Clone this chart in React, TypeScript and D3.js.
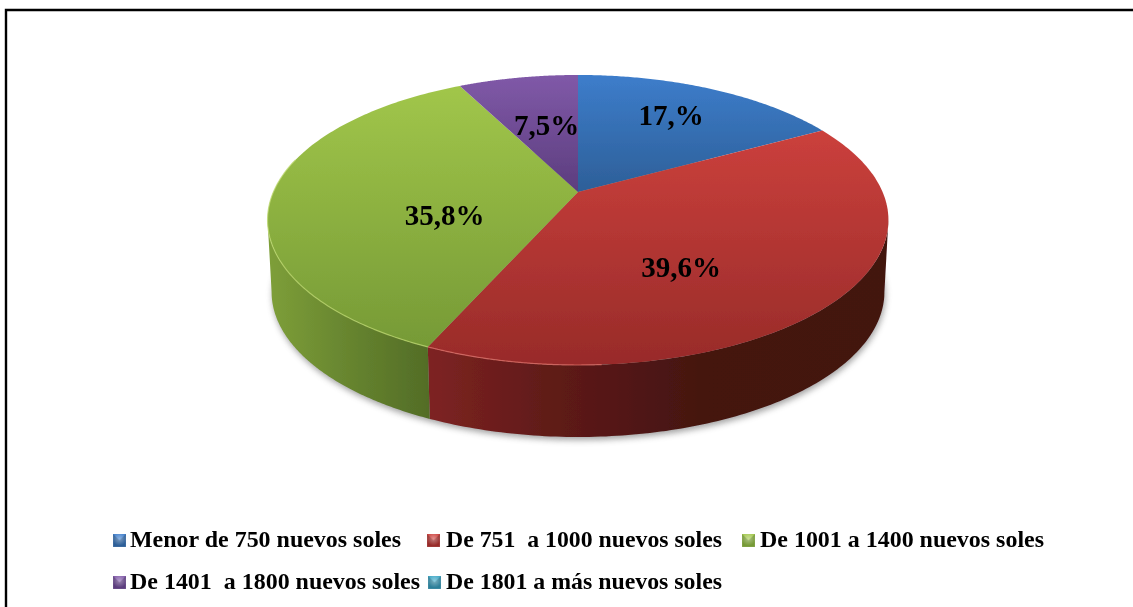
import React from "react";
import * as d3 from "d3";

const categories = [
  "Menor de 750 nuevos soles",
  "De 751  a 1000 nuevos soles",
  "De 1001 a 1400 nuevos soles",
  "De 1401  a 1800 nuevos soles",
  "De 1801 a más nuevos soles",
];
const values = [17, 39.6, 35.8, 7.5, 0];
const valueLabels = ["17,%", "39,6%", "35,8%", "7,5%", ""];

const topColors = [
  ["#3d7dcb", "#2d5f98"],
  ["#cb403c", "#982b29"],
  ["#a1c64a", "#769a36"],
  ["#8059a8", "#5c3d7e"],
  ["#3aa5c4", "#2c7f99"],
];
const wallStops: [number, string][][] = [
  [[0, "#2d5f98"], [1, "#1c3d63"]],
  [[0, "#7e2322"], [0.25, "#611b19"], [0.6, "#441310"], [1, "#431311"]],
  [[0, "#7e9f39"], [0.5, "#67852f"], [1, "#536d27"]],
  [[0, "#5c3d7e"], [1, "#3d2854"]],
  [[0, "#2c7f99"], [1, "#1c5566"]],
];

// Layout
const CX = 578, CY = 192, K = 0.193, A = 304.6, B = 139.6;
const DEPTH = 72, SHRINK = 0.987;
const labelXY = [[671, 125], [681, 277], [444.5, 225], [546.5, 135]];
const labelSize = 29;
const legendXY = [[113, 547], [427, 547], [742, 547], [113, 589], [428, 589]];
const legendTextX = [130, 446, 760, 130, 446];
const legendTextW = [271, 276, 284, 290, 276];

const sx = d3.scaleLinear().domain([-1, 1]).range([-A, A]);
const sy = d3.scaleLinear().domain([-1, 1]).range([-B, B]);

function project(angle: number, r = 1): [number, number] {
  const u = r * Math.sin(angle), v = -r * Math.cos(angle);
  const d = 1 - K * v;
  return [CX + sx(u) / d, CY + sy(v) / d];
}
const arcPts = (a0: number, a1: number) =>
  d3.range(0, 121).map((i) => project(a0 + ((a1 - a0) * i) / 120));
const lower = (p: [number, number]): [number, number] => [CX + (p[0] - CX) * SHRINK, p[1] + DEPTH];
const line = d3.line<[number, number]>();

const slices = d3.pie<number>().sort(null).value((d) => d)(values);
// The wall is seen only between the two points where the rim turns back.
const rightTurn = Math.acos(-K);
const leftTurn = Math.PI * 2 - rightTurn;

export default function App() {
  const allRim = arcPts(0, Math.PI * 2);
  const shadow = line(allRim.map((p) => { const q = lower(p); return [q[0] + 1, q[1] + 3] as [number, number]; })) + "Z";
  const wallOf = (s: d3.PieArcDatum<number>) => {
    const a0 = Math.max(s.startAngle, rightTurn), a1 = Math.min(s.endAngle, leftTurn);
    return a1 > a0 ? arcPts(a0, a1) : null;
  };
  return (
    <svg width={1133} height={607} style={{ position: "absolute", left: 0, top: 0, background: "#fff" }}
      fontFamily="'Liberation Serif', 'Times New Roman', serif">
      <defs>
        <filter id="sh" x="-10%" y="-10%" width="120%" height="130%"><feGaussianBlur stdDeviation="3" /></filter>
        <filter id="soft" x="-5%" y="-20%" width="110%" height="140%"><feGaussianBlur stdDeviation="0.45" /></filter>
        {slices.map((s, i) => (
          <linearGradient key={i} id={`top${i}`} x1="0" y1="0" x2="0" y2="1">
            <stop offset="0" stopColor={topColors[i][0]} />
            <stop offset="1" stopColor={topColors[i][1]} />
          </linearGradient>
        ))}
        {slices.map((s, i) => {
          const pts = wallOf(s);
          if (!pts) return null;
          const xs = d3.extent(pts, (p) => p[0]) as [number, number];
          return (
            <linearGradient key={i} id={`wall${i}`} gradientUnits="userSpaceOnUse" x1={xs[0]} x2={xs[1]} y1={0} y2={0}>
              {wallStops[i].map(([o, c], j) => <stop key={j} offset={o} stopColor={c} />)}
            </linearGradient>
          );
        })}
        <radialGradient id="mkGlow" cx="0.5" cy="0.35" r="0.55">
          <stop offset="0" stopColor="#fff" stopOpacity="0.4" />
          <stop offset="1" stopColor="#fff" stopOpacity="0" />
        </radialGradient>
      </defs>

      <path d={`M1133,10H6V607`} fill="none" stroke="#000" strokeWidth={2.4} />

      <path d={shadow} fill="#555" opacity={0.55} filter="url(#sh)" />

      <g filter="url(#soft)">
        {slices.map((s, i) => {
          const rim = wallOf(s);
          if (!rim) return null;
          return <path key={i} d={line([...rim, ...rim.slice().reverse().map(lower)])! + "Z"} fill={`url(#wall${i})`} />;
        })}

        {slices.map((s, i) => {
          if (s.endAngle - s.startAngle <= 0) return null;
          const rim = arcPts(s.startAngle, s.endAngle);
          return <path key={i} d={line([[CX, CY], ...rim])! + "Z"} fill={`url(#top${i})`} />;
        })}

        {slices.map((s, i) => {
          if (i !== 1 && i !== 2) return null;
          const a0 = i === 1 ? Math.PI * 0.98 : s.startAngle;
          const a1 = i === 1 ? s.endAngle : s.startAngle + (s.endAngle - s.startAngle) * 0.62;
          return <path key={i} d={line(arcPts(a0, a1))!} fill="none"
            stroke={i === 1 ? "#e0706a" : "#bcd86e"} strokeWidth={1.2} opacity={0.75} />;
        })}
      </g>

      <g filter="url(#soft)" fontWeight="bold" fill="#000">
        {slices.map((s, i) => valueLabels[i] ? (
          <text key={i} x={labelXY[i][0]} y={labelXY[i][1]} textAnchor="middle" fontSize={labelSize}>{valueLabels[i]}</text>
        ) : null)}
        {categories.map((c, i) => (
          <text key={c} x={legendTextX[i]} y={legendXY[i][1]} fontSize={23}
            textLength={legendTextW[i]} lengthAdjust="spacingAndGlyphs"
            xmlSpace="preserve" style={{ whiteSpace: "pre" }}>{c}</text>
        ))}
      </g>

      {categories.map((c, i) => {
        const x = legendXY[i][0], y = legendXY[i][1] - 13;
        return (
          <g key={c}>
            <rect x={x} y={y} width={13} height={13} fill={topColors[i][1]} stroke="#fff" strokeOpacity={0.3} strokeWidth={0.5} />
            <path d={`M${x},${y}H${x + 13}L${x + 6.5},${y + 6.5}Z`} fill={topColors[i][0]} />
            <rect x={x} y={y} width={13} height={13} fill="url(#mkGlow)" />
          </g>
        );
      })}
    </svg>
  );
}
